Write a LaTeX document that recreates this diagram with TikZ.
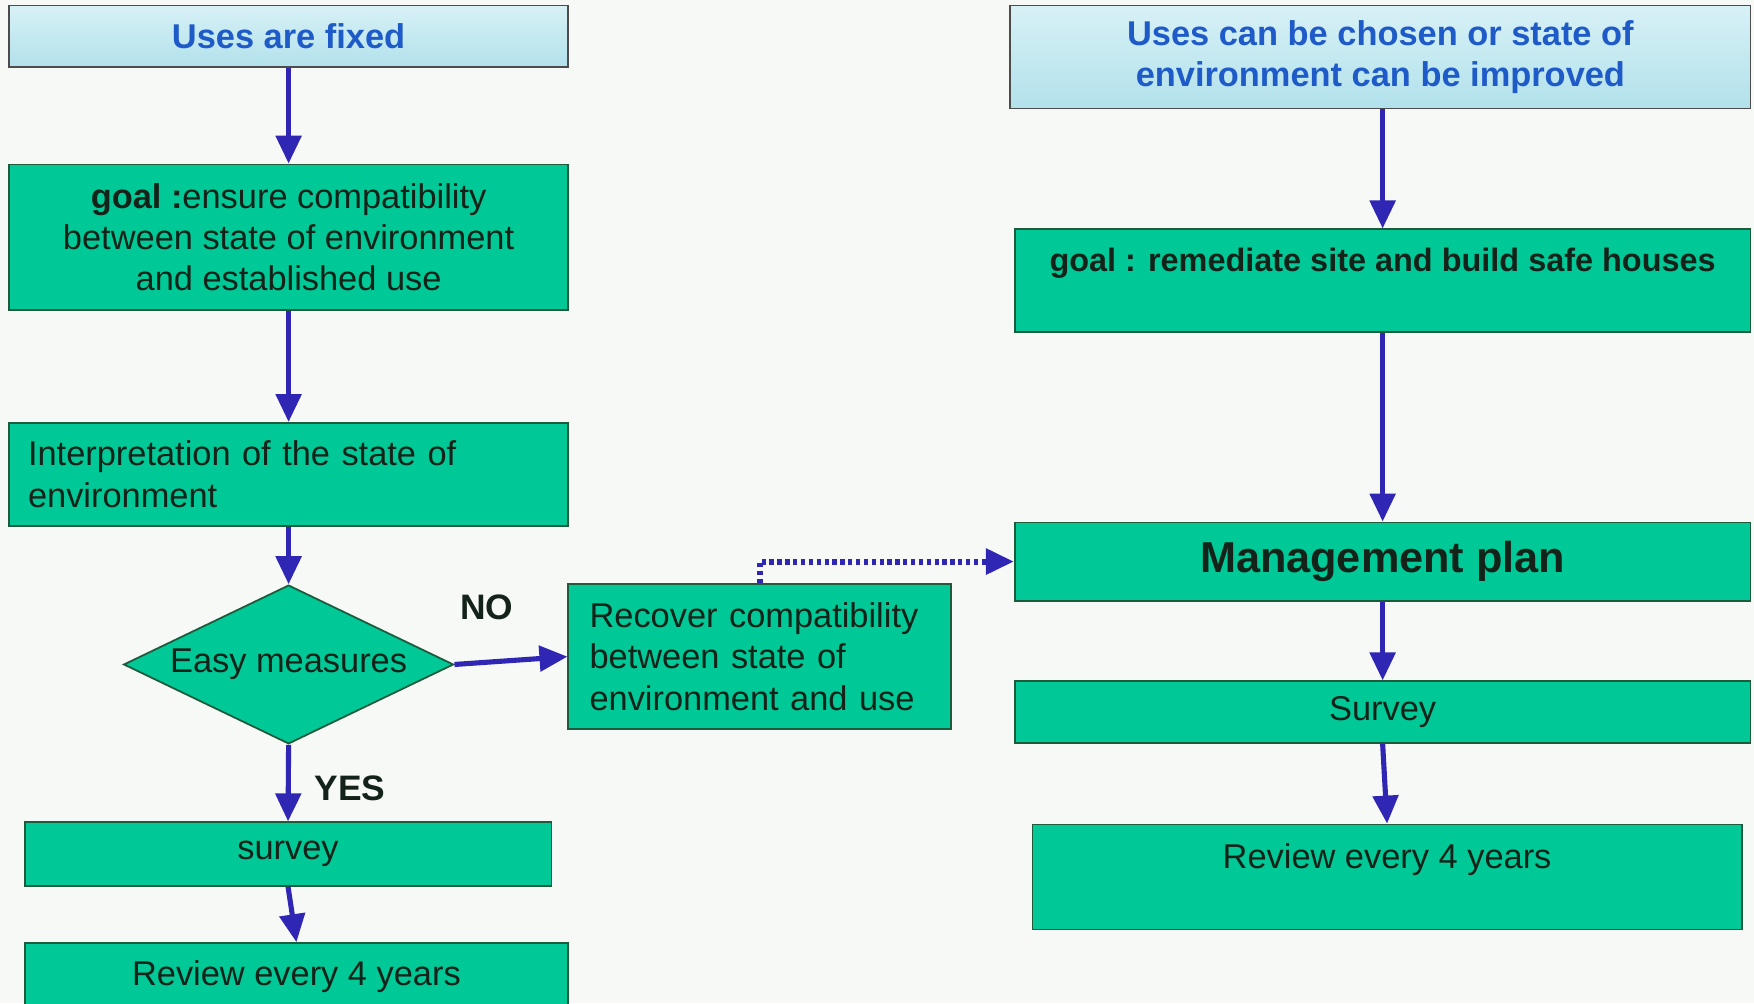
\documentclass[tikz,border=0pt]{standalone}
\usepackage{fontspec}
\setmainfont{Liberation Sans}
\usetikzlibrary{arrows.meta,shapes.geometric}
\definecolor{boxgreen}{RGB}{0,200,150}
\definecolor{boxline}{RGB}{30,90,60}
\definecolor{arrowblue}{RGB}{48,38,180}
\definecolor{headblue}{RGB}{30,90,200}
\definecolor{inktext}{RGB}{20,35,25}
\definecolor{skytop}{RGB}{215,241,246}
\definecolor{skybot}{RGB}{178,225,235}
\definecolor{paper}{RGB}{247,249,247}

\begin{document}
\begin{tikzpicture}[x=0.02cm,y=-0.02cm,
    txt/.style={font=\fontsize{17.5}{21}\selectfont,text=inktext},
    stepbox/.style={txt,draw=boxline,line width=0.9pt,fill=boxgreen,inner sep=0pt},
    headbox/.style={stepbox,draw=black!70,top color=skytop,bottom color=skybot,%
      text=headblue,font=\bfseries\fontsize{17.5}{21}\selectfont},
    flowarrow/.style={arrowblue,line width=2.6pt,-{Triangle[length=0.5cm,width=0.45cm]}}]
      \useasboundingbox (0,0) rectangle (1568,897) ;
      \clip (0,0) rectangle (1568,897) ;
      \fill[paper] (0,0) rectangle (1568,897) ;
      % left branch
      \node[headbox,minimum width=10cm,minimum height=1.1cm] (fixed) at (258,32.5) {Uses are fixed} ;
      \node[stepbox,minimum width=10cm,minimum height=2.6cm,align=center] %
      (goalA) at (258,212) {\textbf{goal :}ensure compatibility\\between state of environment\\and established use} ;
      \node[stepbox,minimum width=10cm,minimum height=1.84cm,align=left,text width=9.32cm,inner xsep=0.34cm] %
      (interp) at (258,424) {Interpretation of the state of\\environment} ;
      \node[stepbox,shape=diamond,aspect=2.08,minimum width=5.9cm,minimum height=2.84cm] %
      (easy) at (258,594) {Easy measures} ;
      \node[stepbox,minimum width=6.84cm,minimum height=2.6cm,align=left,text width=6.08cm,inner xsep=0.38cm] %
      (recover) at (679,587) {Recover compatibility\\between state of\\environment and use} ;
      \node[stepbox,minimum width=9.42cm,minimum height=1.14cm] (surveyA) at (257.5,763.5) {survey} ;
      \node[stepbox,minimum width=9.72cm,minimum height=1.2cm] (reviewA) at (265,873) {Review every 4 years} ;
      \node[txt,font=\bfseries\fontsize{18}{21}\selectfont] (no) at (435,543) {NO} ;
      \node[txt,font=\bfseries\fontsize{18}{21}\selectfont] (yes) at (313,705) {YES} ;
      % right branch
      \node[headbox,minimum width=13.24cm,minimum height=1.84cm,align=center] %
      (chosen) at (1234,51) {Uses can be chosen or state of\\environment can be improved} ;
      \node[stepbox,minimum width=13.16cm,minimum height=1.84cm,align=center,font=\bfseries\fontsize{16.5}{21}\selectfont] %
      (goalB) at (1236,251) {goal : remediate site and build safe houses\\~} ;
      \node[stepbox,minimum width=13.16cm,minimum height=1.4cm,font=\bfseries\fontsize{22}{26}\selectfont] %
      (plan) at (1236,502) {Management plan} ;
      \node[stepbox,minimum width=13.16cm,minimum height=1.1cm] (surveyB) at (1236,636.5) {Survey} ;
      \node[stepbox,minimum width=12.68cm,minimum height=1.88cm,align=center] %
      (reviewB) at (1240,784) {Review every 4 years\\~} ;
      % arrows
      \draw[flowarrow] (fixed) -- (goalA) ;
      \draw[flowarrow] (goalA) -- (interp) ;
      \draw[flowarrow] (interp) -- (easy) ;
      \draw[flowarrow] (easy.south) -- (surveyA.north) ;
      \draw[flowarrow] (surveyA.south) -- (reviewA.north) ;
      \draw[flowarrow] (easy.east) -- (recover.west) ;
      \draw[flowarrow,line width=3pt,dash pattern=on 2.2pt off 1.8pt] (recover.north) |- (plan.west) ;
      \draw[flowarrow] (goalB.north |- chosen.south) -- (goalB.north) ;
      \draw[flowarrow] (goalB) -- (plan) ;
      \draw[flowarrow] (plan) -- (surveyB) ;
      \draw[flowarrow] (surveyB.south) -- (reviewB.north) ;
    \end{tikzpicture}
\end{document}
